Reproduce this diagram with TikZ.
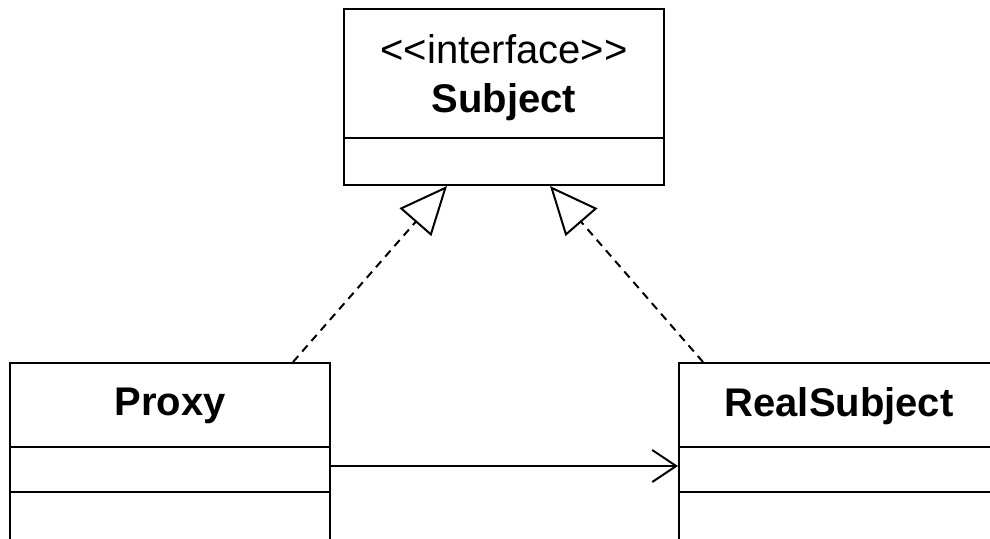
\documentclass[tikz,border=0pt]{standalone}
\usepackage{fontspec}
\setmainfont{Liberation Sans}
\usetikzlibrary{arrows.meta}
\tikzset{
  classbox/.style={draw,line width=1pt,minimum width=160pt,inner sep=0pt},
  classname/.style={anchor=base,font=\bfseries\fontsize{20}{24}\selectfont},
  stereo/.style={anchor=base,font=\fontsize{20}{24}\selectfont},
  realize/.style={dash pattern=on 4pt off 3pt,-{Triangle[open,length=24pt,width=21pt]}},
  uses/.style={-{Straight Barb[length=12pt,width=16pt]}}
}
\begin{document}
\begin{tikzpicture}[x=0.5pt,y=-0.5pt,line width=1pt]
  \useasboundingbox (0,0) rectangle (990,538);
  \node[classbox,minimum height=88pt] (subject) at (504,97) {};
  \node[stereo] (subjstereo) at (504,63) {{<}{<}interface{>}{>}};
  \node[classname] (subjname) at (504,112) {Subject};
  \draw (subject.west |- 0,138) -- (subject.east |- 0,138);

  \node[classbox,minimum height=88.5pt] (proxy) at (170,451.5) {};
  \node[classname] (proxyname) at (170,415) {Proxy};
  \draw (proxy.west |- 0,447) -- (proxy.east |- 0,447);
  \draw (proxy.west |- 0,492) -- (proxy.east |- 0,492);

  \node[classbox,minimum height=88.5pt] (realsubject) at (839,451.5) {};
  \node[classname] (realname) at (839,416) {RealSubject};
  \draw (realsubject.west |- 0,447) -- (realsubject.east |- 0,447);
  \draw (realsubject.west |- 0,492) -- (realsubject.east |- 0,492);

  \draw[realize] (proxy.north -| 293,0) -- (subject.south -| 447,0);
  \draw[realize] (realsubject.north -| 703,0) -- (subject.south -| 550,0);
  \draw[uses] (proxy.east |- 0,466) -- (realsubject.west |- 0,466);
\end{tikzpicture}
\end{document}
